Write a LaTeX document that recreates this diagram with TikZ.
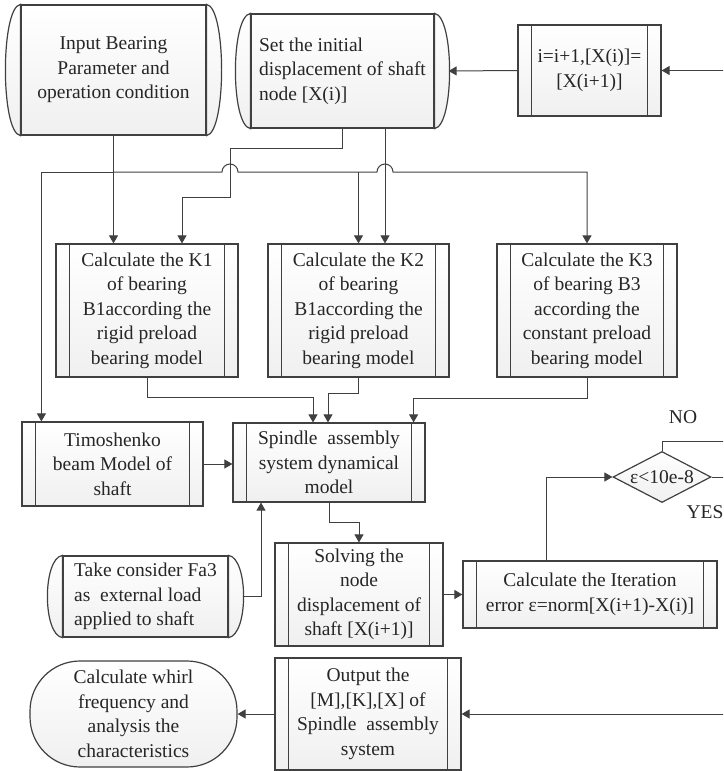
\documentclass[tikz,border=0pt]{standalone}
\usepackage{fontspec}
\setmainfont{Liberation Serif}
\usetikzlibrary{arrows.meta,shapes.geometric}
\definecolor{linegray}{RGB}{64,64,64}
\definecolor{txtgray}{RGB}{38,38,38}
\tikzset{
  box/.style={draw=linegray, line width=1.2pt, top color=white, bottom color=black!6,
    text=txtgray, align=center, inner sep=0pt, font=\fontsize{19.5}{24.5}\selectfont},
  line/.style={draw=linegray, line width=1pt},
  arr/.style={line, -{Triangle[length=8pt,width=9pt]}},
  lbl/.style={text=txtgray, font=\fontsize{19.5}{24.5}\selectfont},
}

\begin{document}
\begin{tikzpicture}[x=1pt,y=-1pt]
  \clip (0,0) rectangle (723,771);

  % Top row
  \node[box, minimum width=185pt, minimum height=130pt] (input) at (113.5,70)
    {Input Bearing\\Parameter and\\operation condition};
  \node[box, minimum width=183pt, minimum height=114pt, align=left] (set) at (342.5,71)
    {Set the initial\\displacement of shaft\\node [X(i)]};
  \node[box, minimum width=143pt, minimum height=91pt] (ibox) at (589.5,70.5)
    {i=i+1,[X(i)]=\\{}[X(i+1)]};

  % Bearing stiffness boxes
  \node[box, minimum width=182pt, minimum height=133pt] (k1) at (147,310.5)
    {Calculate the K1\\of bearing\\B1according the\\rigid preload\\bearing model};
  \node[box, minimum width=181pt, minimum height=133pt] (k2) at (358.5,310.5)
    {Calculate the K2\\of bearing\\B1according the\\rigid preload\\bearing model};
  \node[box, minimum width=180pt, minimum height=133pt] (k3) at (587,310.5)
    {Calculate the K3\\of bearing B3\\according the\\constant preload\\bearing model};

  % Model row
  \node[box, minimum width=181pt, minimum height=84pt] (timo) at (112.5,464)
    {Timoshenko\\beam Model of\\shaft};
  \node[box, minimum width=192pt, minimum height=79pt] (spindle) at (329,462.5)
    {Spindle\ \ assembly\\system dynamical\\model};
  \node[box, diamond, aspect=2, minimum width=98pt, minimum height=51pt] (dec) at (662,477)
    {ε<10e-8};

  % Solving row
  \node[box, minimum width=165pt, minimum height=81pt, align=left] (take) at (145.5,596.5)
    {Take consider Fa3\\as\ \ external load\\applied to shaft};
  \node[box, minimum width=168pt, minimum height=103pt] (solve) at (359,594.5)
    {Solving the\\node\\displacement of\\shaft [X(i+1)]};
  \node[box, minimum width=254pt, minimum height=67pt] (iter) at (590,594.5)
    {Calculate the Iteration\\error ε=norm[X(i+1)-X(i)]};

  % Output row
  \node[box, rounded corners=50pt, minimum width=207pt, minimum height=106pt] (whirl) at (133.5,714)
    {Calculate whirl\\frequency and\\analysis the\\characteristics};
  \node[box, minimum width=186pt, minimum height=112pt] (out) at (368,714)
    {Output the\\{}[M],[K],[X] of\\Spindle\ \ assembly\\system};

  % Inner bars of the process boxes
  \foreach \n in {ibox,k1,k2,k3,timo,spindle,solve,iter,out} {
    \draw[line, line width=1.2pt] ([xshift=14pt]\n.north west) -- ([xshift=14pt]\n.south west);
    \draw[line, line width=1.2pt] ([xshift=-14pt]\n.north east) -- ([xshift=-14pt]\n.south east);
  }

  % Curved sides of the data boxes
  \foreach \n in {input,set,take} {
    \draw[line, line width=1.2pt, top color=white, bottom color=black!6]
      (\n.north west) .. controls +(-20,3) and +(-20,-3) .. (\n.south west) -- cycle;
    \draw[line, line width=1.2pt, top color=white, bottom color=black!6]
      (\n.north east) .. controls +(20,3) and +(20,-3) .. (\n.south east) -- cycle;
  }

  % Distribution of the input data
  \coordinate (bus) at (113.5,172);
  \draw[arr] (input.south) -- (input.south |- k1.north);
  \draw[arr] (bus) -| ([xshift=20pt]timo.north west);
  \draw[arr] (bus) -- (222,172) arc[start angle=180, end angle=360, radius=8]
    -- (377,172) arc[start angle=180, end angle=360, radius=8] -- (k3.north |- bus) -- (k3.north);
  \draw[arr] (k2.north |- bus) -- (k2.north);

  % Initial displacement to K1 and K2
  \draw[arr] (set.south) |- (230,148) |- (182,197) -- ([xshift=35pt]k1.north);
  \draw[arr] ([xshift=42.5pt]set.south) -- ([xshift=26.5pt]k2.north);

  % Stiffness into the assembly model
  \draw[arr] (k1.south) -- ++(0,20) -| ([xshift=-16pt]spindle.north);
  \draw[arr] (k2.south) -- ++(0,16) -| ([xshift=-1pt]spindle.north);
  \draw[arr] (k3.south) -- ++(0,21) -| ([xshift=-12pt]spindle.north east);
  \draw[arr] (timo.east) -- (timo.east -| spindle.west);
  \draw[arr] ([xshift=14pt]take.east) -| ([xshift=-68pt]spindle.south);

  % Solving loop
  \draw[arr] (spindle.south) -- ++(0,20) -| (solve.north);
  \draw[arr] (solve.east) -- (solve.east -| iter.west);
  \draw[arr] ([xshift=-44pt]iter.north) |- (dec.west);
  \draw[arr] (dec.north) |- (740,441) |- (ibox.east);
  \draw[arr] (ibox.west) -- ([xshift=14pt]set.east);
  \draw[arr] (dec.east) -- (740,477) |- (out.east);
  \draw[arr] (out.west) -- (out.west -| whirl.east);

  % Branch labels
  \node[lbl] (no) at (683,417) {NO};
  \node[lbl] (yes) at (705,512) {YES};
\end{tikzpicture}
\end{document}
